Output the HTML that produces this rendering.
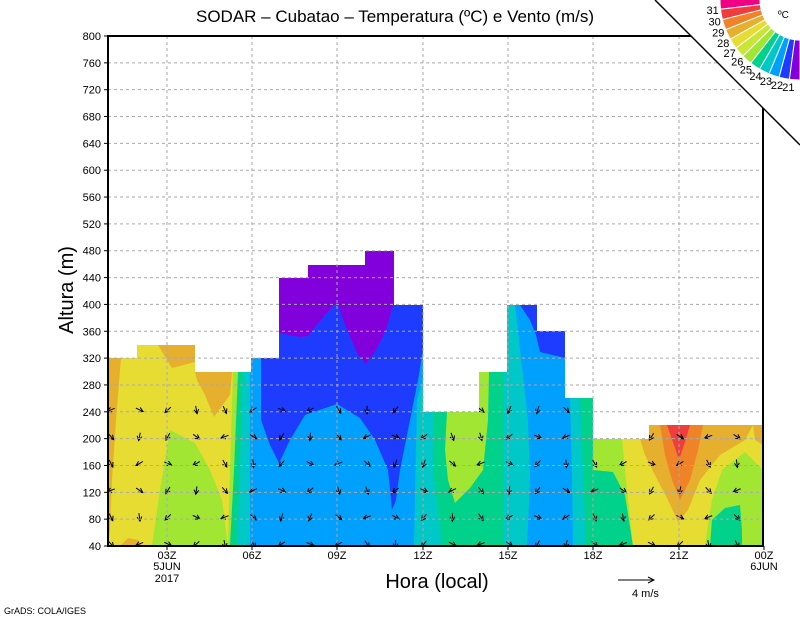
<!DOCTYPE html>
<html><head><meta charset="utf-8"><style>
html,body{margin:0;padding:0;background:#fff;}
svg{display:block;font-family:"Liberation Sans",sans-serif;}
</style></head><body>
<svg id="s" width="800" height="618" viewBox="0 0 800 618" xmlns="http://www.w3.org/2000/svg">
<defs>
<clipPath id="dc"><path d="M108,546 V358 H137 V345 H195 V372 H251 V358 H279 V278 H308 V265 H365 V251 H394 V305 H423 V412 H479 V372 H507 V305 H537 V331 H565 V398 H593 V439 H649 V425 H763 V546 Z"/></clipPath>
</defs>
<rect width="800" height="618" fill="#fff"/>
<g clip-path="url(#dc)">
<rect x="108" y="240" width="143" height="306" fill="#e6dc32"/>
<polygon points="108,358 121,358 116,420 112,480 110,530 108,546" fill="#e6af2d"/>
<polygon points="120,546 128,538 138,540 142,546" fill="#e6af2d"/>
<polygon points="158,345 195,345 195,362 172,368" fill="#e6af2d"/>
<polygon points="195,372 232,372 230,395 214,417 205,395 197,380" fill="#e6af2d"/>
<polygon points="170,430 195,443 210,470 222,500 228,546 152,546 160,490" fill="#a0e632"/>
<polygon points="233,372 238,372 237,546 228,546 230,470" fill="#a0e632"/>
<polygon points="238,372 245,372 245,546 230,546 234,470" fill="#00d28c"/>
<polygon points="243,372 251,372 251,546 237,546 240,470" fill="#00c8c8"/>
<rect x="245" y="240" width="178" height="306" fill="#00a0ff"/>
<rect x="245" y="372" width="5" height="174" fill="#00c8c8"/>
<polygon points="261,358 261,420 270,445 279,463 290,440 305,415 337,404 360,418 375,440 388,470 392,510 396,500 400,470 410,420 418,380 423,350 423,240 261,240" fill="#1e3cff"/>
<polygon points="279,240 279,333 300,337 308,336 325,315 337,302 345,325 358,355 366,364 376,350 386,330 393,305 394,240" fill="#8200dc"/>
<polygon points="417,400 423,380 423,546 414,546" fill="#00c8c8"/>
<rect x="423" y="372" width="84" height="174" fill="#00d28c"/>
<polygon points="423,412 434,412 433,470 442,546 423,546" fill="#00c8c8"/>
<polygon points="447,412 479,412 479,372 489,372 488,420 483,470 470,488 455,503 448,480 445,450" fill="#a0e632"/>
<polygon points="503,372 507,372 507,546 503,546" fill="#00c8c8"/>
<rect x="507" y="305" width="86" height="241" fill="#00a0ff"/>
<polygon points="507,305 515,305 520,350 528,420 530,480 527,546 503,546 505,500 507,420" fill="#00c8c8"/>
<polygon points="520,305 537,305 537,331 565,331 565,358 540,352 536,335 530,320" fill="#1e3cff"/>
<polygon points="570,398 580,398 586,546 573,546 572,470" fill="#00c8c8"/>
<polygon points="580,398 593,398 593,546 586,546" fill="#00d28c"/>
<rect x="593" y="420" width="170" height="126" fill="#a0e632"/>
<polygon points="593,470 613,472 625,495 633,546 593,546" fill="#00d28c"/>
<polygon points="622,439 649,425 763,425 763,470 740,480 712,500 705,546 633,546 628,500" fill="#e6dc32"/>
<polygon points="705,546 712,500 722,470 745,452 763,470 763,546" fill="#a0e632"/>
<polygon points="710,546 712,520 725,508 740,505 742,530 742,546" fill="#00d28c"/>
<polygon points="640,439 649,439 649,425 753,425 745,440 720,455 700,480 688,510 678,522 668,500 655,475 645,455" fill="#e6af2d"/>
<polygon points="753,425 763,425 763,445 755,440" fill="#e6af2d"/>
<polygon points="660,425 703,425 698,450 690,480 680,500 672,480 665,455" fill="#f08228"/>
<polygon points="667,425 690,425 684,445 679,460 674,445" fill="#f03c3c"/>
<g id="arr" stroke="#000" stroke-width="1" fill="none"></g>
</g>
<g stroke="#aaa" stroke-width="1" stroke-dasharray="3,3" id="grid"></g>
<rect x="108" y="36" width="655" height="510" fill="none" stroke="#000" stroke-width="2"/>
<g id="ticks" stroke="#000" stroke-width="1"></g>
<g font-size="11" text-anchor="end" id="ylab"></g>
<g font-size="11" text-anchor="middle">
<text x="167" y="559">03Z</text><text x="167" y="570">5JUN</text><text x="167" y="582">2017</text>
<text x="252" y="559">06Z</text><text x="337" y="559">09Z</text><text x="423" y="559">12Z</text>
<text x="508" y="559">15Z</text><text x="593" y="559">18Z</text><text x="679" y="559">21Z</text>
<text x="764" y="559">00Z</text><text x="764" y="570">6JUN</text>
</g>
<text x="437" y="588" font-size="20" text-anchor="middle">Hora (local)</text>
<text transform="translate(73,290) rotate(-90)" font-size="20" text-anchor="middle">Altura (m)</text>
<text x="395" y="22" font-size="17" text-anchor="middle">SODAR – Cubatao – Temperatura (ºC) e Vento (m/s)</text>
<text x="4" y="614" font-size="9">GrADS: COLA/IGES</text>
<line x1="618" y1="580" x2="654" y2="580" stroke="#000"/>
<polyline points="648,577 654,580 648,583" stroke="#000" fill="none"/>
<text x="632" y="597" font-size="11">4  m/s</text>
<polygon points="655,0 800,0 800,145" fill="#fff"/>
<line x1="655" y1="0" x2="800" y2="145" stroke="#000" stroke-width="1.5"/>
<g id="leg"></g>
<text x="778" y="18" font-size="10">ºC</text>
</svg>
<script>
(function(){
var ns="http://www.w3.org/2000/svg";
function el(p,t,at){var e=document.createElementNS(ns,t);for(var k in at)e.setAttribute(k,at[k]);p.appendChild(e);return e;}
var Y=function(h){return 546-(h-40)*510/760;};
var g=document.getElementById('grid'),tk=document.getElementById('ticks'),yl=document.getElementById('ylab');
for(var h=80;h<=760;h+=40){var y=Y(h);el(g,'line',{x1:108,x2:763,y1:y,y2:y});}
for(var h2=40;h2<=800;h2+=40){var yy=Y(h2);el(tk,'line',{x1:104,x2:108,y1:yy,y2:yy});var t=el(yl,'text',{x:101,y:yy+4});t.textContent=h2;}
var xs=[167,252,337,423,508,593,679];
xs.forEach(function(x){el(g,'line',{x1:x,x2:x,y1:36,y2:546});el(tk,'line',{x1:x,x2:x,y1:546,y2:550});});
el(tk,'line',{x1:764,x2:764,y1:546,y2:550});
var tops=[[108,137,320],[137,195,340],[195,251,300],[251,279,320],[279,308,440],[308,365,460],[365,394,480],[394,423,400],[423,479,240],[479,507,300],[507,537,400],[537,565,360],[565,593,260],[593,649,200],[649,763,220]];
function colTop(x){for(var i=0;i<tops.length;i++)if(x>=tops[i][0]&&x<tops[i][1])return tops[i][2];return 0;}
var ar=document.getElementById('arr');
for(var x=111;x<=763;x+=28.45){var tp=Math.min(colTop(x),260);for(var hh=40;hh<=tp-20;hh+=40){
 var y3=Y(hh)-2;var ang=(Math.sin(x*0.13+hh*0.05)*1.2)+1.6;var L=8;
 var dx=Math.cos(ang)*L,dy=Math.sin(ang)*L;
 el(ar,'line',{x1:x-dx/2,y1:y3-dy/2,x2:x+dx/2,y2:y3+dy/2});
 var ex=x+dx/2,ey=y3+dy/2,b=ang+Math.PI;
 el(ar,'polyline',{points:(ex+Math.cos(b+0.5)*5)+','+(ey+Math.sin(b+0.5)*5)+' '+ex+','+ey+' '+(ex+Math.cos(b-0.5)*5)+','+(ey+Math.sin(b-0.5)*5)});
}}
var cols=["#f00082","#f03c3c","#f08228","#e6af2d","#e6dc32","#c8e632","#a0e632","#00d28c","#00c8c8","#00a0ff","#1e3cff","#8200dc"];
var lg=document.getElementById('leg');var a0=181,da=(181-90)/12,cx=800,cy=0,r1=40,r2=80;
function P(r,d){var th=d*Math.PI/180;return (cx+r*Math.cos(th)).toFixed(1)+','+(cy+r*Math.sin(th)).toFixed(1);}
for(var i=0;i<12;i++){var s=a0-i*da,e=s-da;
 el(lg,'path',{d:'M'+P(r1,s)+' L'+P(r2,s)+' A80,80 0 0,0 '+P(r2,e)+' L'+P(r1,e)+' A40,40 0 0,1 '+P(r1,s)+'Z',fill:cols[i],stroke:'#fff','stroke-width':1});
 if(i<11){var th=e*Math.PI/180,lx=cx+88*Math.cos(th),ly=cy+88*Math.sin(th)+4;
  var tx=el(lg,'text',{x:lx,y:ly,'font-size':11,'text-anchor':'middle'});tx.textContent=31-i;}
}
})();
</script>
</body></html>
